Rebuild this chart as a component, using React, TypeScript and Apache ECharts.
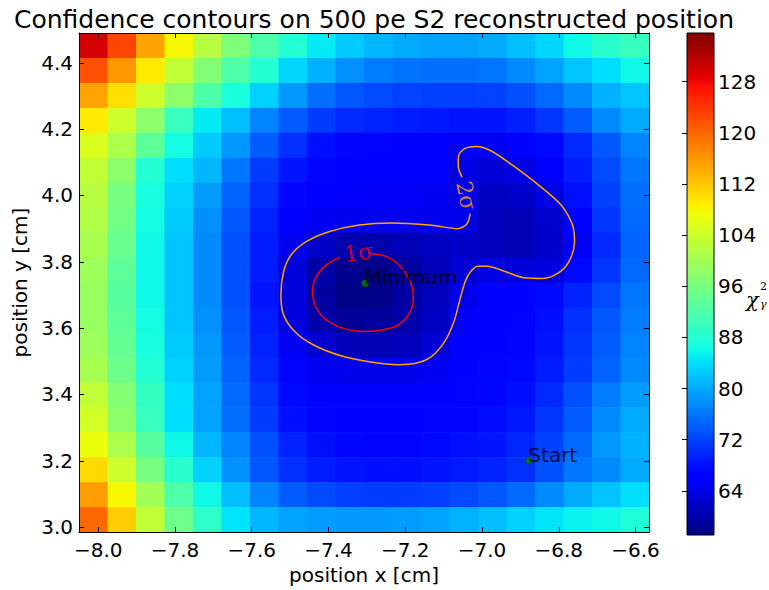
import React, { useEffect, useRef } from "react";
import * as echarts from "echarts";

// ---------- data ----------
const xRange = [-8.05, -6.565];
const yRange = [2.985, 4.49];
const chiRange = [57.1, 135.6];
const xTicks = [-8.0, -7.8, -7.6, -7.4, -7.2, -7.0, -6.8, -6.6];
const yTicks = [3.0, 3.2, 3.4, 3.6, 3.8, 4.0, 4.2, 4.4];
const cbTicks = [64, 72, 80, 88, 96, 104, 112, 120, 128];

// chi^2 map, rows from top (high y) to bottom, columns left (low x) to right
const chi2Rows = [
  [130, 123, 115, 108, 102, 96.5, 92, 88, 85, 82.5, 81, 80, 79.5, 79.5, 80, 81.5, 83.5, 86, 88.5, 90],
  [122, 116, 109, 103, 97, 92, 88, 83.5, 80.5, 78, 76.5, 75.8, 75.5, 75.5, 76, 77.5, 79.5, 82, 84, 86],
  [115, 110, 104, 98, 92, 87, 83, 78.5, 75.5, 73.5, 72.5, 72, 71.8, 71.8, 72, 73, 75, 77.5, 80.5, 82],
  [109, 104, 98, 90, 85, 81.5, 77, 74, 71.5, 70, 69.5, 69, 68.8, 68.5, 68.5, 69.2, 71, 74, 77.5, 80],
  [105.5, 101, 93.5, 86.5, 82.5, 78.5, 74, 70.5, 68, 66.8, 66.6, 66.4, 66.2, 65.5, 65.2, 66, 67.5, 70, 73.5, 77],
  [103, 98, 88, 84, 81, 76, 71.5, 68.5, 67, 66.5, 66.2, 66, 65.6, 63.8, 62.8, 64, 66.5, 69, 72.5, 76],
  [102, 96, 87, 83, 79, 74.5, 70.5, 67, 65.8, 65.5, 65.3, 65.2, 65, 64.3, 61.8, 62, 64, 68, 72, 75.5],
  [101.5, 95.5, 86.5, 82.5, 78, 73.5, 69.5, 66, 65, 64.7, 64.5, 64.5, 64.5, 64.3, 61.3, 60.8, 62.3, 66.5, 71, 75],
  [100.5, 94.5, 86, 82, 77.5, 73, 69, 64.8, 62, 60.3, 60.2, 60.8, 61.5, 62, 61.2, 60.8, 62, 65, 70, 74.5],
  [99.5, 93.5, 86, 82, 77.5, 73, 69, 63.3, 59.6, 58, 57.8, 59.3, 61, 62.8, 63.7, 63.2, 63.5, 67.5, 71, 75],
  [99, 93, 86, 82, 77.5, 73, 68.5, 63.3, 59.4, 57.6, 57.7, 59.4, 61.3, 64.2, 66, 66.3, 67.5, 69.5, 72.5, 76],
  [99, 93.5, 86.5, 82, 78, 73.5, 69, 63.5, 60, 58.7, 58.9, 60, 61.8, 65.3, 66.2, 66.6, 68, 70.5, 73.5, 76.5],
  [99.5, 94, 87, 82.5, 78.5, 74, 69.5, 65, 62.5, 61, 60.7, 61.3, 63, 65.8, 66.5, 67, 68.5, 71, 74, 77],
  [100.5, 95, 88, 83, 79, 74.5, 70, 67, 64.8, 64.3, 64.3, 64.3, 65, 66.3, 67, 67.5, 69, 71.5, 74.5, 77.5],
  [103, 97, 89.5, 84, 79.5, 75, 71, 67.5, 66.2, 65.8, 65.6, 65.7, 66.1, 66.7, 67.3, 68, 70, 73, 76.5, 79],
  [104.5, 98, 90, 84, 79.5, 75.5, 71.5, 68, 66.8, 66.3, 66.2, 66.3, 66.6, 67.2, 67.8, 68.8, 71, 74, 77.5, 80],
  [107, 101, 93, 86, 81, 77, 73, 69.5, 68, 67.3, 67.2, 67.2, 67.5, 68, 68.6, 69.8, 72, 75, 78.5, 80.5],
  [110.5, 104, 96, 88.5, 83, 78, 73.5, 70.5, 69, 68.3, 68, 68, 68.3, 68.8, 69.5, 70.5, 73, 76, 77.5, 80],
  [115.5, 108, 100, 92, 86, 81.5, 77, 74, 72.5, 71.8, 71.5, 71.5, 71.8, 72.5, 73.5, 75, 77.5, 80, 82, 84],
  [120, 111.5, 103, 95, 89, 84.5, 81, 79.5, 79, 78.8, 78.8, 79, 79.5, 80.5, 81.5, 83, 84.5, 85.5, 86, 87.5],
];

// contour lines (x, y in cm); gaps left where the inline labels sit
const sigma1 = [
  [-7.295, 3.826], [-7.247, 3.815], [-7.208, 3.78], [-7.184, 3.73], [-7.179, 3.69],
  [-7.189, 3.645], [-7.218, 3.61], [-7.257, 3.595], [-7.305, 3.59], [-7.363, 3.6],
  [-7.411, 3.63], [-7.435, 3.67], [-7.442, 3.71], [-7.432, 3.755], [-7.406, 3.79],
  [-7.37, 3.814],
];
const sigma2 = [
  [-7.031, 3.945], [-7.039, 3.915], [-7.063, 3.9], [-7.131, 3.91], [-7.237, 3.917],
  [-7.324, 3.91], [-7.401, 3.89], [-7.459, 3.86], [-7.498, 3.82], [-7.517, 3.77],
  [-7.524, 3.7], [-7.517, 3.64], [-7.488, 3.59], [-7.44, 3.55], [-7.363, 3.515],
  [-7.286, 3.497], [-7.218, 3.49], [-7.17, 3.495], [-7.131, 3.515], [-7.097, 3.56],
  [-7.073, 3.62], [-7.059, 3.68], [-7.044, 3.74], [-7.03, 3.77], [-7.01, 3.787],
  [-6.986, 3.787], [-6.938, 3.77], [-6.89, 3.752], [-6.841, 3.75], [-6.803, 3.765],
  [-6.774, 3.8], [-6.759, 3.86], [-6.764, 3.91], [-6.793, 3.97], [-6.851, 4.03],
  [-6.919, 4.09], [-6.977, 4.135], [-7.015, 4.148], [-7.044, 4.142], [-7.061, 4.12],
  [-7.062, 4.09], [-7.052, 4.055],
];
const contourLabelText = ["1σ", "2σ"];
const contourLabelPos = [[-7.322, 3.828], [-7.041, 4.0]];
const contourLabelAngle = [8, -78];

const pointNames = ["Minimum", "Start"];
const pointPos = [[-7.305, 3.735], [-6.878, 3.2]];

// ---------- helpers ----------
function pw(t: number, pts: number[][]) {
  for (let i = 1; i < pts.length; i++) {
    if (t <= pts[i][0]) {
      const [t0, v0] = pts[i - 1];
      const [t1, v1] = pts[i];
      return v0 + ((v1 - v0) * (t - t0)) / (t1 - t0);
    }
  }
  return pts[pts.length - 1][1];
}
function jet(t: number) {
  const r = pw(t, [[0, 0], [0.35, 0], [0.66, 1], [0.89, 1], [1, 0.5]]);
  const g = pw(t, [[0, 0], [0.125, 0], [0.375, 1], [0.64, 1], [0.91, 0], [1, 0]]);
  const b = pw(t, [[0, 0.5], [0.11, 1], [0.34, 1], [0.65, 0], [1, 0]]);
  const h = (v: number) => Math.round(v * 255).toString(16).padStart(2, "0");
  return "#" + h(r) + h(g) + h(b);
}
const JET_N = 101;
const jetColors = Array.from({ length: JET_N }, (_, i) => jet(i / (JET_N - 1)));

const FONT = "'DejaVu Sans', Verdana, sans-serif";
const SERIF = "'DejaVu Serif', serif";
const fmt = (v: number) => (v < 0 ? "\u2212" : "") + Math.abs(v).toFixed(1);

export default function App() {
  const ref = useRef<HTMLDivElement>(null);
  useEffect(() => {
    if (!ref.current) return;
    const chart = echarts.init(ref.current, undefined, { renderer: "svg" });
    const nRows = chi2Rows.length;
    const nCols = chi2Rows[0].length;
    const dx = (xRange[1] - xRange[0]) / nCols;
    const dy = (yRange[1] - yRange[0]) / nRows;
    const cells: number[][] = [];
    chi2Rows.forEach((row, r) =>
      row.forEach((v, c) => {
        cells.push([xRange[0] + (c + 0.5) * dx, yRange[1] - (r + 0.5) * dy, v]);
      })
    );

    const GL = 79, GT = 33, GW = 570, GH = 502;
    const frameAxis = {
      axisLine: { show: true, onZero: false, lineStyle: { color: "#000", width: 1 } },
      splitLine: { show: false },
      z: 10,
    };
    const tickStyle = { inside: true, length: 5, lineStyle: { color: "#000", width: 1 } };
    const labelStyle = { color: "#000", fontSize: 20, fontFamily: FONT };

    const option: any = {
      animation: false,
      backgroundColor: "#fff",
      title: {
        text: "Confidence contours on 500 pe S2 reconstructed position",
        left: 9,
        top: 2,
        textStyle: { fontSize: 25, fontWeight: "normal", fontFamily: FONT, color: "#000" },
      },
      grid: [
        { left: GL, top: GT, width: GW, height: GH },
        { left: 687, top: GT, width: 27, height: GH },
      ],
      xAxis: [
        {
          gridIndex: 0, type: "value", min: xRange[0], max: xRange[1], position: "bottom",
          ...frameAxis,
          axisTick: { ...tickStyle, customValues: xTicks },
          axisLabel: { ...labelStyle, customValues: xTicks, formatter: fmt, margin: 8 },
          name: "position x [cm]", nameLocation: "middle", nameGap: 30,
          nameTextStyle: { ...labelStyle },
        },
        {
          gridIndex: 0, type: "value", min: xRange[0], max: xRange[1], position: "top",
          ...frameAxis,
          axisTick: { ...tickStyle, customValues: xTicks },
          axisLabel: { show: false },
        },
        { gridIndex: 1, type: "value", min: 0, max: 1, show: false },
      ],
      yAxis: [
        {
          gridIndex: 0, type: "value", min: yRange[0], max: yRange[1], position: "left",
          ...frameAxis,
          axisTick: { ...tickStyle, customValues: yTicks },
          axisLabel: { ...labelStyle, customValues: yTicks, formatter: fmt, margin: 6 },
          name: "position y [cm]", nameLocation: "middle", nameGap: 43,
          nameTextStyle: { ...labelStyle },
        },
        {
          gridIndex: 0, type: "value", min: yRange[0], max: yRange[1], position: "right",
          ...frameAxis,
          axisTick: { ...tickStyle, customValues: yTicks },
          axisLabel: { show: false },
        },
        {
          gridIndex: 1, type: "value", min: chiRange[0], max: chiRange[1], position: "right",
          axisLine: { show: false },
          splitLine: { show: false },
          axisTick: { ...tickStyle, customValues: cbTicks },
          axisLabel: { ...labelStyle, customValues: cbTicks, margin: 4 },
          z: 10,
        },
      ],
      visualMap: {
        type: "continuous",
        show: false,
        min: chiRange[0],
        max: chiRange[1],
        dimension: 2,
        seriesIndex: 0,
        inRange: { color: jetColors },
      },
      series: [
        {
          type: "custom",
          xAxisIndex: 0,
          yAxisIndex: 0,
          data: cells,
          encode: { x: 0, y: 1 },
          renderItem: (params: any, api: any) => {
            const x = api.value(0);
            const y = api.value(1);
            const p0 = api.coord([x - dx / 2, y + dy / 2]);
            const p1 = api.coord([x + dx / 2, y - dy / 2]);
            return {
              type: "rect",
              shape: { x: p0[0], y: p0[1], width: p1[0] - p0[0] + 0.6, height: p1[1] - p0[1] + 0.6 },
              style: { fill: api.visual("color") },
            };
          },
          z: 1,
        },
        {
          type: "custom",
          xAxisIndex: 2,
          yAxisIndex: 2,
          data: [[0, chiRange[0]]],
          renderItem: (params: any, api: any) => {
            const p0 = api.coord([0, chiRange[1]]);
            const p1 = api.coord([1, chiRange[0]]);
            return {
              type: "rect",
              shape: { x: p0[0], y: p0[1], width: p1[0] - p0[0], height: p1[1] - p0[1] },
              style: {
                fill: new echarts.graphic.LinearGradient(
                  0, 0, 0, 1,
                  jetColors.map((c, i) => ({ offset: 1 - i / (JET_N - 1), color: c })).reverse()
                ),
                stroke: "#000",
                lineWidth: 1,
              },
            };
          },
          z: 1,
        },
        {
          type: "line",
          xAxisIndex: 0, yAxisIndex: 0,
          data: sigma1,
          showSymbol: false,
          smooth: 0.3,
          lineStyle: { color: "#ff0000", width: 1.5 },
          z: 3,
        },
        {
          type: "line",
          xAxisIndex: 0, yAxisIndex: 0,
          data: sigma2,
          showSymbol: false,
          smooth: 0.3,
          lineStyle: { color: "#ffa500", width: 1.5 },
          z: 3,
        },
        {
          type: "scatter",
          xAxisIndex: 0, yAxisIndex: 0,
          symbolSize: 0,
          data: contourLabelText.map((t, i) => ({
            value: contourLabelPos[i],
            label: {
              show: true,
              formatter: t,
              position: "inside",
              rotate: contourLabelAngle[i],
              color: i === 0 ? "#ff0000" : "#ffa500",
              fontSize: 22,
              fontFamily: SERIF,
            },
          })),
          z: 4,
        },
        {
          type: "scatter",
          xAxisIndex: 0, yAxisIndex: 0,
          symbol: "circle",
          symbolSize: 7,
          itemStyle: { color: "#008000", borderColor: "#005000", borderWidth: 1 },
          data: pointNames.map((n, i) => ({
            value: pointPos[i],
            label: {
              show: true,
              formatter: n,
              position: [3.5, 8],
              align: "left",
              verticalAlign: "bottom",
              color: "#000",
              fontSize: 20,
              fontFamily: FONT,
            },
          })),
          z: 5,
        },
      ],
      graphic: [
        { type: "text", left: 746, top: 289, style: { text: "χ", fontSize: 21, fontStyle: "italic", fontFamily: SERIF, fill: "#000" } },
        { type: "text", left: 760, top: 281, style: { text: "2", fontSize: 11, fontFamily: SERIF, fill: "#000" } },
        { type: "text", left: 760, top: 299, style: { text: "γ", fontSize: 11, fontStyle: "italic", fontFamily: SERIF, fill: "#000" } },
      ],
    };
    chart.setOption(option);
    return () => chart.dispose();
  }, []);
  return (
    <div
      ref={ref}
      style={{ position: "absolute", left: 0, top: 0, width: 769, height: 590 }}
    />
  );
}
